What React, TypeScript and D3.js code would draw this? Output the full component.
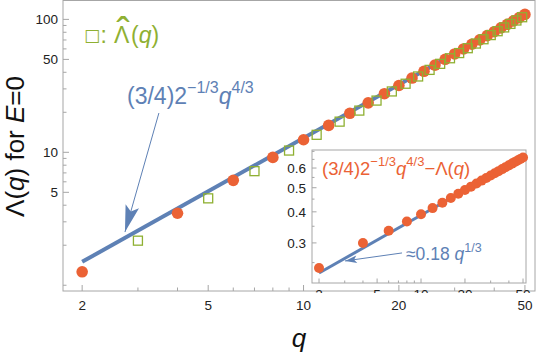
import React from 'react';
import * as d3 from 'd3';

// Λ(q) at even q (orange dots)
const qEven = [2, 4, 6, 8, 10, 12, 14, 16, 18, 20, 22, 24, 26, 28, 30, 32, 34, 36, 38, 40, 42, 44, 46, 48, 50];
const lambdaEven = [1.262, 3.48, 6.153, 9.158, 12.434, 15.94, 19.65, 23.547, 27.612, 31.827, 36.188, 40.685,
  45.314, 50.069, 54.931, 59.902, 64.986, 70.172, 75.447, 80.818, 86.279, 91.829, 97.463, 103.181, 108.989];

// Λ̂(q) at odd q (green squares)
const qOdd = [3, 5, 7, 9, 11, 13, 15, 17, 19, 21, 23, 25, 27, 29, 31, 33, 35, 37, 39, 41, 43, 45, 47, 49];
const lambdaHatOdd = [2.164, 4.504, 7.214, 10.31, 13.54, 17.01, 20.6, 24.5, 28.7, 32.8, 37.2, 41.7,
  46.3, 51.0, 55.8, 60.7, 65.8, 70.9, 76.2, 81.5, 87.0, 92.5, 98.1, 103.8];

// (3/4)2^(-1/3) q^(4/3), straight in log-log
const fitQ = [2, 50];
const fitMain = [1.5, 109.65];

// inset: (3/4)2^(-1/3)q^(4/3) - Λ(q)
const deltaEven = [0.238, 0.3, 0.336, 0.366, 0.391, 0.414, 0.435, 0.455, 0.473, 0.49, 0.505, 0.52,
  0.534, 0.547, 0.56, 0.572, 0.583, 0.594, 0.605, 0.615, 0.625, 0.635, 0.644, 0.653, 0.661];
const fitInset = [0.227, 0.663];

const xMajor = [2, 5, 10, 20, 50];
const xMinor = [3, 4, 6, 7, 8, 9, 30, 40];
const yMajor = [5, 10, 50, 100];
const yMinor = [1, 2, 3, 4, 6, 7, 8, 9, 20, 30, 40, 60, 70, 80, 90];
const iyMajor = [0.3, 0.4, 0.5, 0.6];
const iyMinor = [0.25, 0.35, 0.45, 0.55, 0.65, 0.7];

const BLUE = '#5e81b5';
const ORANGE = '#eb6235';
const GREEN = '#8fb032';
const FRAME = '#a6a6a6';
const FONT = '"Liberation Sans", Arial, sans-serif';

export default function App() {
  const x = d3.scaleLog().domain([1.74, 53.8]).range([63, 535]);
  const y = d3.scaleLog().domain([0.905, 138.7]).range([291, 0.5]);
  const ix = d3.scaleLog().domain([1.79, 52.4]).range([312, 526]);
  const iy = d3.scaleLog().domain([0.207, 0.709]).range([283, 150]);

  const mainLine = d3.line<number>().x((_, i) => x(fitQ[i])).y(d => y(d));
  const insetLine = d3.line<number>().x((_, i) => ix(fitQ[i])).y(d => iy(d));

  const [x0, x1] = x.range();
  const [y0, y1] = y.range();
  const [ix0, ix1] = ix.range();
  const [iy0, iy1] = iy.range();

  // annotation arrows, in data coordinates
  const arrowMain = { from: [3.494, 19.75], to: [2.73, 2.513] };
  const arrowInset = { from: [7.41, 0.2734], to: [3.015, 0.2539] };

  return (
    <svg width={538} height={353} style={{ position: 'absolute', left: 0, top: 0, background: '#fff' }}
      fontFamily={FONT}>
      <defs>
        <marker id="headBig" markerUnits="userSpaceOnUse" markerWidth={30} markerHeight={20}
          refX={0} refY={0} viewBox="-26 -8 28 16" orient="auto">
          <path d="M0,0 L-25,-6.5 L-20,0 L-25,6.5 Z" fill={BLUE} />
        </marker>
        <marker id="headSmall" markerUnits="userSpaceOnUse" markerWidth={14} markerHeight={10}
          refX={0} refY={0} viewBox="-12 -4 13 8" orient="auto">
          <path d="M0,0 L-11,-3.5 L-8.5,0 L-11,3.5 Z" fill={BLUE} />
        </marker>
        <clipPath id="insetClip">
          <rect x={270} y={140} width={268} height={153} />
        </clipPath>
      </defs>

      {/* main frame */}
      <rect x={x0} y={y1} width={x1 - x0} height={y0 - y1} fill="none" stroke={FRAME} strokeWidth={1} />
      {xMajor.map(t => (
        <g key={'xM' + t}>
          <line x1={x(t)} x2={x(t)} y1={y0} y2={y0 - 6} stroke={FRAME} />
          <text x={x(t)} y={309.5} fontSize={13.5} textAnchor="middle" fill="#222">{t}</text>
        </g>
      ))}
      {xMinor.map(t => (
        <line key={'xm' + t} x1={x(t)} x2={x(t)} y1={y0} y2={y0 - 3.5} stroke={FRAME} />
      ))}
      {yMajor.map(t => (
        <g key={'yM' + t}>
          <line x1={x0} x2={x0 + 6} y1={y(t)} y2={y(t)} stroke={FRAME} />
          <text x={58} y={y(t) + 4.8} fontSize={13.5} textAnchor="end" fill="#222">{t}</text>
        </g>
      ))}
      {yMinor.map(t => (
        <line key={'ym' + t} x1={x0} x2={x0 + 3.5} y1={y(t)} y2={y(t)} stroke={FRAME} />
      ))}

      {/* main data */}
      <path d={mainLine(fitMain) || ''} stroke={BLUE} strokeWidth={4} fill="none" />
      {qEven.map((q, i) => (
        <circle key={'c' + q} cx={x(q)} cy={y(lambdaEven[i])} r={5.8} fill={ORANGE} />
      ))}
      {qOdd.map((q, i) => (
        <rect key={'s' + q} x={x(q) - 4.5} y={y(lambdaHatOdd[i]) - 4.5} width={9} height={9}
          fill="none" stroke={GREEN} strokeWidth={1.3} />
      ))}

      {/* legend for squares */}
      <text x={84} y={40.5} fontSize={17} fill={GREEN} fontFamily='"DejaVu Sans", sans-serif'>□</text>
      <text x={100.5} y={43} fontSize={23} fill={GREEN}>:</text>
      <text x={114} y={43} fontSize={23} fill={GREEN}>Λ</text>
      <text x={116.5} y={46} fontSize={40} fill={GREEN}>ˆ</text>
      <text x={131} y={43} fontSize={23} fill={GREEN}>(<tspan fontStyle="italic">q</tspan>)</text>

      {/* main annotation */}
      <text x={127} y={104} fontSize={23} fill={BLUE}>
        (3/4)2<tspan fontSize={16} dy={-11.5}>−1/3</tspan>
        <tspan fontStyle="italic" fontSize={23} dy={11.5}>q</tspan>
        <tspan fontSize={16} dy={-11.5}>4/3</tspan>
      </text>
      <line x1={x(arrowMain.from[0])} y1={y(arrowMain.from[1])} x2={x(arrowMain.to[0])} y2={y(arrowMain.to[1])}
        stroke={BLUE} strokeWidth={1} markerEnd="url(#headBig)" />

      {/* inset */}
      <g clipPath="url(#insetClip)">
        <rect x={ix0} y={iy1} width={ix1 - ix0} height={iy0 - iy1} fill="#fff" stroke={FRAME} strokeWidth={1} />
        {xMajor.map(t => (
          <g key={'ixM' + t}>
            <line x1={ix(t)} x2={ix(t)} y1={iy0} y2={iy0 - 4.5} stroke={FRAME} />
            <text x={ix(t)} y={299} fontSize={13.5} textAnchor="middle" fill="#222">{t}</text>
          </g>
        ))}
        {xMinor.map(t => (
          <line key={'ixm' + t} x1={ix(t)} x2={ix(t)} y1={iy0} y2={iy0 - 2.5} stroke={FRAME} />
        ))}
        {iyMajor.map(t => (
          <g key={'iyM' + t}>
            <line x1={ix0} x2={ix0 + 4.5} y1={iy(t)} y2={iy(t)} stroke={FRAME} />
            <text x={306} y={iy(t) + 4.8} fontSize={13.5} textAnchor="end" fill="#222">{t}</text>
          </g>
        ))}
        {iyMinor.map(t => (
          <line key={'iym' + t} x1={ix0} x2={ix0 + 2.5} y1={iy(t)} y2={iy(t)} stroke={FRAME} />
        ))}
        <path d={insetLine(fitInset) || ''} stroke={BLUE} strokeWidth={3} fill="none" />
        {qEven.map((q, i) => (
          <circle key={'ic' + q} cx={ix(q)} cy={iy(deltaEven[i])} r={5} fill={ORANGE} />
        ))}
        <text x={322} y={175} fontSize={18.5} fill={ORANGE}>
          (3/4)2<tspan fontSize={13} dy={-9}>−1/3</tspan>
          <tspan fontStyle="italic" fontSize={18.5} dy={9}>q</tspan>
          <tspan fontSize={13} dy={-9}>4/3</tspan>
          <tspan fontSize={18.5} dy={9}>−Λ(</tspan>
          <tspan fontStyle="italic">q</tspan>
          <tspan>)</tspan>
        </text>
        <text x={406} y={260} fontSize={17.5} fill={BLUE}>
          ≈0.18 <tspan fontStyle="italic">q</tspan>
          <tspan fontSize={12.5} dy={-8}>1/3</tspan>
        </text>
        <line x1={ix(arrowInset.from[0])} y1={iy(arrowInset.from[1])} x2={ix(arrowInset.to[0])} y2={iy(arrowInset.to[1])}
          stroke={BLUE} strokeWidth={1} markerEnd="url(#headSmall)" />
      </g>

      {/* axis labels */}
      <text transform="translate(24,146.5) rotate(-90)" fontSize={26} textAnchor="middle" fill="#111">
        Λ(<tspan fontStyle="italic">q</tspan>) for <tspan fontStyle="italic">E</tspan>=0
      </text>
      <text x={299} y={346.5} fontSize={26} textAnchor="middle" fontStyle="italic" fill="#111">q</text>
    </svg>
  );
}
